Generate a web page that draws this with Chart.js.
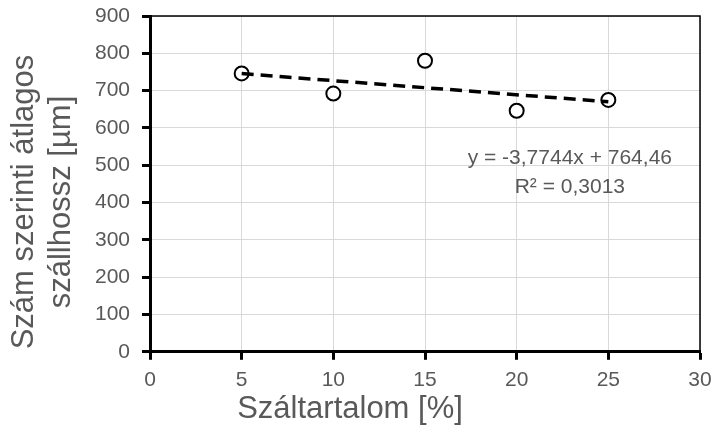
<!DOCTYPE html>
<html>
<head>
<meta charset="utf-8">
<script src="https://cdn.jsdelivr.net/npm/chart.js@4.4.0/dist/chart.umd.min.js"></script>
<style>
  html, body { margin: 0; padding: 0; background: #fff; }
</style>
</head>
<body>
<canvas id="fiberChart" width="714" height="432"></canvas>
<script>
// values
const fiberContent = [5, 10, 15, 20, 25];
const avgLength = [746, 692, 780, 646, 675];
const trendX = [5, 25];
const trendY = [745.6, 670.1];
const xTitle = 'Száltartalom [%]';
const yTitle = ['Szám szerinti átlagos', 'szállhossz [µm]'];
const equationLines = ['y = -3,7744x + 764,46', 'R² = 0,3013'];
const equationAt = { x: 22.9, y: 520 };

const textGray = '#595959';
const fontFamily = '"Liberation Sans", Arial, sans-serif';

const yTitlePlugin = {
  id: 'yTitle',
  afterDraw(chart) {
    const ctx = chart.ctx;
    ctx.save();
    ctx.translate(43, 202);
    ctx.rotate(-Math.PI / 2);
    ctx.font = '31px ' + fontFamily;
    ctx.fillStyle = textGray;
    ctx.textAlign = 'center';
    ctx.textBaseline = 'middle';
    yTitle.forEach((line, i) => ctx.fillText(line, 0, (i - 0.5) * 37));
    ctx.restore();
  }
};

const frameAndLabel = {
  id: 'frameAndLabel',
  afterDraw(chart) {
    const ctx = chart.ctx;
    const a = chart.chartArea;
    ctx.save();
    ctx.strokeStyle = '#000';
    ctx.lineWidth = 1.5;
    ctx.beginPath();
    ctx.moveTo(a.left, a.top);
    ctx.lineTo(a.right, a.top);
    ctx.lineTo(a.right, a.bottom);
    ctx.stroke();

    const px = chart.scales.x.getPixelForValue(equationAt.x);
    const py = chart.scales.y.getPixelForValue(equationAt.y);
    ctx.font = '21px ' + fontFamily;
    ctx.fillStyle = textGray;
    ctx.textAlign = 'center';
    ctx.textBaseline = 'middle';
    equationLines.forEach((line, i) => ctx.fillText(line, px, py + i * 29));
    ctx.restore();
  }
};

const ctx = document.getElementById('fiberChart').getContext('2d');
new Chart(ctx, {
  type: 'scatter',
  data: {
    datasets: [
      {
        type: 'line',
        label: 'Trend',
        data: trendX.map((x, i) => ({ x: x, y: trendY[i] })),
        borderColor: '#000',
        borderWidth: 3.5,
        borderDash: [12, 7],
        pointRadius: 0,
        fill: false,
        tension: 0
      },
      {
        label: 'Átlagos szálhossz',
        data: fiberContent.map((x, i) => ({ x: x, y: avgLength[i] })),
        pointStyle: 'circle',
        pointRadius: 7,
        pointBorderWidth: 2,
        borderColor: '#000',
        backgroundColor: '#fff'
      }
    ]
  },
  options: {
    responsive: false,
    animation: false,
    devicePixelRatio: 1,
    layout: { padding: { top: 16, right: 14, left: 0, bottom: 0 } },
    scales: {
      x: {
        type: 'linear',
        min: 0,
        max: 30,
        ticks: {
          stepSize: 5,
          color: textGray,
          font: { family: fontFamily, size: 21 },
          padding: 8
        },
        grid: {
          color: '#d9d9d9',
          lineWidth: 1,
          tickLength: 8,
          tickColor: '#000',
          tickWidth: 3
        },
        border: { color: '#000', width: 3 },
        afterFit(scale) {
          scale.height = 39;
          scale.paddingLeft = 0;
          scale.paddingRight = 0;
        }
      },
      y: {
        min: 0,
        max: 900,
        ticks: {
          stepSize: 100,
          color: textGray,
          font: { family: fontFamily, size: 21 },
          padding: 12
        },
        grid: {
          color: '#d9d9d9',
          lineWidth: 1,
          tickLength: 8,
          tickColor: '#000',
          tickWidth: 3
        },
        border: { color: '#000', width: 3 },
        afterFit(scale) {
          scale.width = 150;
          scale.paddingTop = 0;
          scale.paddingBottom = 0;
        }
      }
    },
    plugins: {
      legend: { display: false },
      tooltip: { enabled: false },
      title: {
        display: true,
        position: 'bottom',
        text: xTitle,
        color: textGray,
        font: { family: fontFamily, size: 31, weight: 'normal' },
        padding: { top: 0, bottom: 4 }
      }
    }
  },
  plugins: [yTitlePlugin, frameAndLabel]
});
</script>
</body>
</html>
